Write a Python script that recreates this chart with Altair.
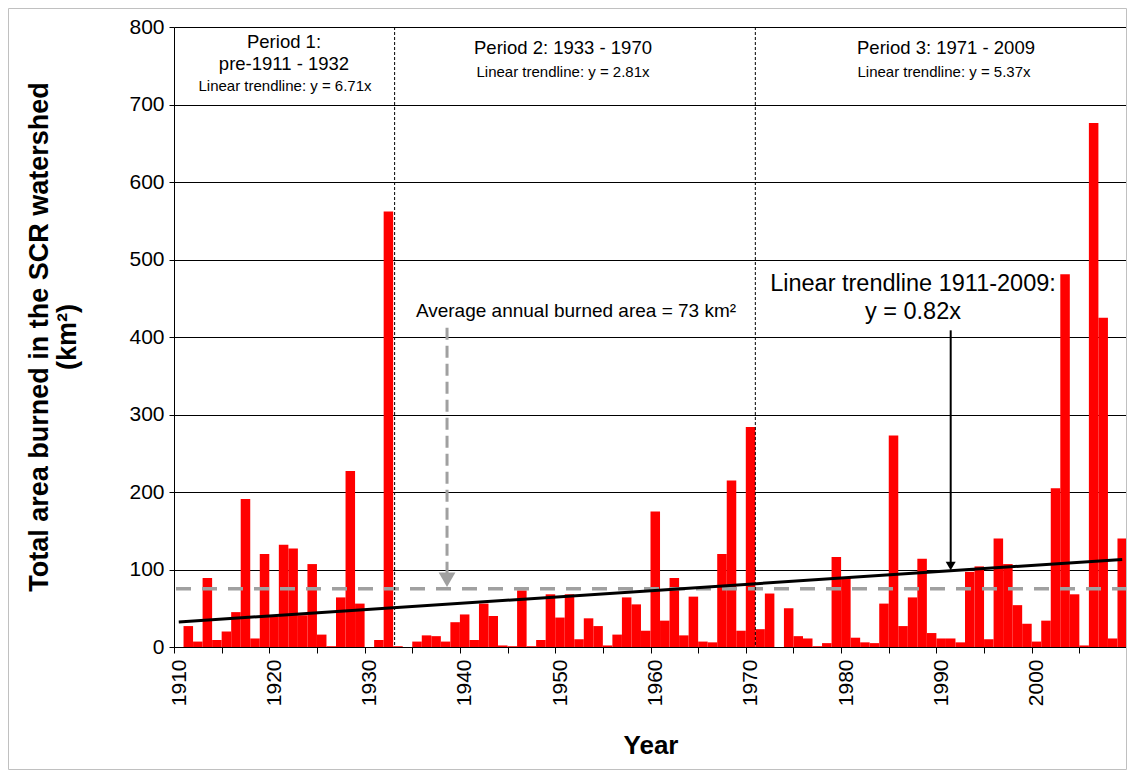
import altair as alt
import pandas as pd

# ---- data ----
years = list(range(1910, 2010))
burned_km2 = [0, 27, 7, 89, 9, 20, 45, 191, 11, 120,
              39, 132, 127, 41, 107, 16, 1, 64, 227, 56,
              0, 9, 562, 1, 0, 7, 15, 14, 7, 32,
              42, 9, 56, 40, 2, 1, 73, 1, 9, 68,
              38, 68, 10, 37, 27, 2, 16, 64, 55, 21,
              175, 34, 89, 15, 65, 7, 6, 120, 215, 21,
              284, 23, 69, 0, 50, 14, 11, 1, 5, 116,
              90, 12, 6, 5, 56, 273, 27, 64, 114, 18,
              11, 11, 6, 97, 104, 10, 140, 107, 54, 30,
              7, 34, 205, 481, 68, 2, 676, 425, 11, 140]

trend_years = [1910.5, 2009.5]
trend_values = [32.3, 113.0]
avg_value = [75.3]
period_breaks = [1933.15, 1971.0]

avg_arrow_year = [1938.65]
avg_arrow_from = [412.0]
avg_arrow_to = [95.0]
avg_arrow_head = [86.7]

trend_arrow_year = [1991.5]
trend_arrow_from = [408.6]
trend_arrow_to = [108.0]
trend_arrow_head = [104.5]

FONT = "Liberation Sans"
W, H = 953, 620

bars_df = pd.DataFrame({"year": years, "km2": burned_km2})
trend_df = pd.DataFrame({"year": trend_years, "val": trend_values})
avg_df = pd.DataFrame({"avg": avg_value})
breaks_df = pd.DataFrame({"year": period_breaks})
avg_arrow_df = pd.DataFrame({"year": avg_arrow_year, "a": avg_arrow_from,
                             "b": avg_arrow_to, "h": avg_arrow_head})
trend_arrow_df = pd.DataFrame({"year": trend_arrow_year, "a": trend_arrow_from,
                               "b": trend_arrow_to, "h": trend_arrow_head})

xscale = alt.Scale(domain=[1910, 2010], nice=False, zero=False)
yscale = alt.Scale(domain=[0, 800], nice=False)

x_axis = alt.Axis(
    values=list(range(1910, 2011, 5)),
    format="d",
    labelExpr="datum.value % 10 == 0 && datum.value < 2010 ? datum.label : ''",
    labelAngle=270, labelAlign="right", labelBaseline="middle",
    labelOffset=5, labelPadding=6, labelFontSize=21, labelColor="#000",
    labelFlush=False, labelOverlap=False, labelBound=False,
    tickSize=6, tickColor="#000", domainColor="#000", grid=False,
    title="Year", titleFontSize=26, titleFontWeight="bold", titleColor="#000",
    titleY=98, titleBaseline="middle",
)
y_axis = alt.Axis(
    values=list(range(0, 801, 100)), format="d",
    labelFontSize=21, labelColor="#000", labelPadding=5,
    labelFlush=False, labelOverlap=False,
    tickSize=5, tickColor="#000", domainColor="#000",
    grid=True, gridColor="#000", gridWidth=1, title=None,
)

bars = alt.Chart(bars_df).transform_calculate(
    year_end="datum.year + 1"
).mark_rect(color="#ff0000").encode(
    x=alt.X("year:Q", scale=xscale, axis=x_axis),
    x2="year_end:Q",
    y=alt.Y("km2:Q", scale=yscale, axis=y_axis),
    y2=alt.datum(0),
)

avg_line = alt.Chart(avg_df).mark_rule(
    color="#a0a0a0", strokeWidth=3.5, strokeDash=[15, 11]
).encode(y=alt.Y("avg:Q", scale=yscale))

trend_line = alt.Chart(trend_df).mark_line(color="#000", strokeWidth=3).encode(
    x=alt.X("year:Q", scale=xscale), y=alt.Y("val:Q", scale=yscale)
)

dividers = alt.Chart(breaks_df).mark_rule(
    color="#000", strokeWidth=1, strokeDash=[3, 2]
).encode(x=alt.X("year:Q", scale=xscale))

avg_shaft = alt.Chart(avg_arrow_df).mark_rule(
    color="#a0a0a0", strokeWidth=3, strokeDash=[12, 6]
).encode(x=alt.X("year:Q", scale=xscale), y=alt.Y("a:Q", scale=yscale), y2="b:Q")
avg_head = alt.Chart(avg_arrow_df).mark_point(
    shape="triangle-down", size=280, filled=True, color="#a0a0a0", opacity=1
).encode(x=alt.X("year:Q", scale=xscale), y=alt.Y("h:Q", scale=yscale))

trend_shaft = alt.Chart(trend_arrow_df).mark_rule(color="#000", strokeWidth=2).encode(
    x=alt.X("year:Q", scale=xscale), y=alt.Y("a:Q", scale=yscale), y2="b:Q"
)
trend_head = alt.Chart(trend_arrow_df).mark_point(
    shape="triangle-down", size=100, filled=True, color="#000", opacity=1
).encode(x=alt.X("year:Q", scale=xscale), y=alt.Y("h:Q", scale=yscale))

one = alt.Data(values=[{}])


def label(text, x, y, size, weight="normal", angle=0, baseline="middle"):
    kw = dict(text=text, font=FONT, fontSize=size, fontWeight=weight,
              color="#000", align="center", baseline=baseline)
    if angle:
        kw["angle"] = angle
    return alt.Chart(one).mark_text(**kw).encode(x=alt.value(x), y=alt.value(y))


texts = [
    label("Period 1:", 110, 15, 18.5),
    label("pre-1911 - 1932", 110, 37, 18.5),
    label("Linear trendline: y = 6.71x", 111, 59, 15),
    label("Period 2: 1933 - 1970", 389, 21, 18.5),
    label("Linear trendline: y = 2.81x", 389, 45, 15),
    label("Period 3: 1971 - 2009", 772, 21, 18.5),
    label("Linear trendline: y = 5.37x", 770, 45, 15),
    label("Average annual burned area = 73 km²", 402, 289.7, 19, baseline="alphabetic"),
    label("Linear trendline 1911-2009:", 739, 263.7, 23.5, baseline="alphabetic"),
    label("y = 0.82x", 739, 292, 23.5, baseline="alphabetic"),
    label("Total area burned in the SCR watershed", -134, 310, 27, "bold", 270),
    label("(km²)", -106, 310, 27, "bold", 270),
]

border = alt.Chart(one).mark_rect(
    fillOpacity=0, stroke="#c0c0c0", strokeWidth=1
).encode(x=alt.value(-165.5), x2=alt.value(W - 0.5),
         y=alt.value(-18.5), y2=alt.value(742.5))

chart = alt.layer(
    bars, avg_line, trend_line, dividers, avg_shaft, avg_head,
    trend_shaft, trend_head, *texts, border
).properties(
    width=W, height=H,
    autosize=alt.AutoSizeParams(type="none"),
    padding={"left": 166, "top": 19, "right": 0, "bottom": 123},
    background="white",
).configure(font=FONT).configure_view(strokeOpacity=0)

chart.save("out.html", embed_options={"renderer": "svg", "actions": False})
